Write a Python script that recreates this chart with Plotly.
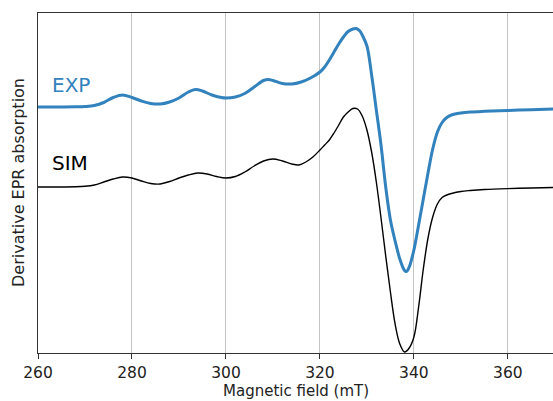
import plotly.graph_objects as go

# Magnetic field (mT) and derivative EPR signal (arbitrary units)
sim_field = [260, 264, 268, 270, 272, 274, 276, 278, 280, 282, 284, 286, 288, 290,
             292, 294, 296, 298, 300, 302, 304, 306, 308, 310, 312, 314, 315.5, 317,
             318.5, 320, 321, 322, 323, 324, 325, 326, 327, 328, 329, 330, 331, 332,
             333, 334, 335, 336, 337, 338, 339, 340, 341, 342, 343, 344, 345, 346,
             347, 348, 350, 352, 355, 360, 365, 370]
sim_signal = [166, 166, 166.2, 166.7, 168, 171, 174, 176, 175, 172, 169.5, 169, 171.5, 175,
              178, 180, 179, 176.5, 175, 176.5, 181, 187, 192, 194, 192, 189, 188, 191,
              196, 203, 208, 213, 220, 228, 236, 241, 244.5, 244, 237, 223, 201, 171,
              135, 97, 61, 29, 9, 1, 5, 16, 46, 84, 115, 136, 149, 155.5,
              158, 159.5, 161.5, 162.5, 163.5, 164.4, 165, 165.5]

exp_field = [260, 264, 268, 270, 272, 274, 276, 278, 280, 282, 284, 286, 288, 290,
             292, 293.5, 295, 297, 299, 300, 302, 304, 306, 308, 309, 310, 312, 314,
             316, 318, 320, 321, 322, 323, 324, 325, 326, 327, 327.7, 328.5, 329, 330,
             331, 332, 333, 334, 335, 336, 337, 338, 338.4, 339, 340, 341, 342, 343,
             344, 345, 346, 347, 348, 350, 352, 355, 360, 365, 370]
exp_signal = [246, 246, 246.2, 246.5, 247.5, 250.5, 255.5, 258, 255.5, 252, 249.5, 249, 251, 255,
              261, 263.5, 262, 258, 255.5, 255, 256, 259.5, 266, 272.5, 273.5, 272.5, 269.5, 269,
              271, 275, 281, 286, 293, 301, 309, 316, 321.5, 324, 324.5, 322, 318, 307,
              278, 243, 208, 166, 133, 112, 94, 82.5, 81.5, 86, 103, 128, 154, 180,
              204, 221, 230.5, 235.5, 238, 240, 241, 241.7, 242.5, 243.3, 244]

x_ticks = [260, 280, 300, 320, 340, 360]
labels = ["EXP", "SIM"]
label_pos = [268, 190]

blue = "#3182bd"
font = "DejaVu Sans"

fig = go.Figure()
fig.add_trace(go.Scatter(x=sim_field, y=sim_signal, mode="lines", name="SIM",
                         line=dict(color="black", width=1.4, shape="spline", smoothing=1.0)))
fig.add_trace(go.Scatter(x=exp_field, y=exp_signal, mode="lines", name="EXP",
                         line=dict(color=blue, width=3, shape="spline", smoothing=1.0)))

for txt, yv, col in zip(labels, label_pos, [blue, "black"]):
    fig.add_annotation(x=262.6, y=yv, xref="x", yref="y", text=txt, showarrow=False,
                       xanchor="left", yanchor="middle",
                       font=dict(family=font, size=20, color=col))

fig.add_annotation(x=0.5, y=0, xref="paper", yref="paper", yshift=-38,
                   text="Magnetic field (mT)", showarrow=False,
                   xanchor="center", yanchor="middle",
                   font=dict(family=font, size=15, color="#222"))
fig.add_annotation(x=0, y=0.5, xref="paper", yref="paper", xshift=-20,
                   text="Derivative EPR absorption", showarrow=False, textangle=-90,
                   xanchor="center", yanchor="middle",
                   font=dict(family=font, size=16, color="#222"))

fig.update_layout(
    width=553, height=401,
    margin=dict(l=38, r=0, t=13, b=48),
    paper_bgcolor="white", plot_bgcolor="white",
    showlegend=False,
    font=dict(family=font, size=15, color="#222"),
)
fig.update_xaxes(range=[260, 369.6], tickvals=x_ticks, ticks="outside", ticklen=5,
                 tickcolor="#333", tickwidth=1, showline=True, linecolor="#333",
                 linewidth=1.2, mirror=True, showgrid=True, gridcolor="#c4c4c4",
                 gridwidth=1, zeroline=False, tickfont=dict(size=15.5, family=font, color="#222"))
fig.update_yaxes(range=[0, 340], showticklabels=False, ticks="", showline=True,
                 linecolor="#333", linewidth=1.2, showgrid=False, zeroline=False)

fig.write_html("out.html", config={"displayModeBar": False},
               post_script="document.body.style.margin='0';document.body.style.overflow='hidden';")
